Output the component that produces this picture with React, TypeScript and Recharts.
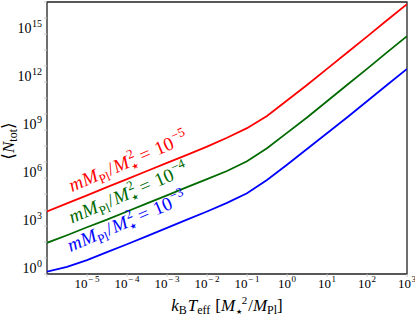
import React from "react";
import { LineChart, Line, XAxis, YAxis, ReferenceArea } from "recharts";

// k_B T_eff sample points [M*^2 / M_Pl]
const temperatures = [
  1e-6, 3.16e-6, 1e-5, 3.16e-5, 1e-4, 3.16e-4, 1e-3, 3.16e-3, 1e-2, 3.16e-2,
  1e-1, 3.16e-1, 1, 3.16, 10, 31.6, 100, 316, 1000,
];
// <N_tot> for m M_Pl / M*^2 = 1e-5 (red)
const seriesA = [
  8.1e3, 2.6e4, 8.3e4, 2.7e5, 8.5e5, 2.75e6, 8.9e6, 2.8e7, 9.1e7, 3.3e8,
  1.3e9, 7.6e9, 6.9e10, 6.5e11, 6.6e12, 6.8e13, 6.9e14, 7.2e15, 7.4e16,
];
// <N_tot> for m M_Pl / M*^2 = 1e-4 (green)
const seriesB = [
  89, 263, 832, 2.5e3, 8.1e3, 2.6e4, 8.3e4, 2.7e5, 8.5e5, 2.75e6,
  1.1e7, 7.2e7, 6.6e8, 6.0e9, 6.2e10, 6.5e11, 6.6e12, 7.1e13, 7.4e14,
];
// <N_tot> for m M_Pl / M*^2 = 1e-3 (blue)
const seriesC = [
  1.4, 2.8, 7.4, 23, 72, 234, 760, 2.5e3, 8.1e3, 2.8e4,
  1.1e5, 7.6e5, 6.8e6, 6.5e7, 6.2e8, 6.0e9, 6.2e10, 6.5e11, 6.6e12,
];
const xTicks = [1e-6, 1e-5, 1e-4, 1e-3, 1e-2, 1e-1, 1, 10, 100, 1000];
const yTicks = [
  1, 1e1, 1e2, 1e3, 1e4, 1e5, 1e6, 1e7, 1e8, 1e9, 1e10, 1e11, 1e12, 1e13,
  1e14, 1e15, 1e16, 1e17,
];
const labelExponents = ["−5", "−4", "−3"];

const data = temperatures.map((t, i) => ({
  t,
  a: seriesA[i],
  b: seriesB[i],
  c: seriesC[i],
}));

const SERIF = "'Liberation Serif', 'DejaVu Serif', serif";
const STAR = "★";

const expText = (v: number) => {
  const e = Math.round(Math.log10(v));
  return e < 0 ? `−\u2009${Math.abs(e)}` : `${e}`;
};

const XTick = (props: any) => {
  const { x, y, payload } = props;
  const e = Math.round(Math.log10(payload.value));
  if (e < -5) return null;
  return (
    <text x={x} y={y + 9} textAnchor="middle" fontFamily={SERIF} fontSize={13} fill="#000">
      <tspan>10</tspan>
      <tspan fontSize={9} dy={-6} dx={0.5}>{expText(payload.value)}</tspan>
    </text>
  );
};

const YTick = (props: any) => {
  const { x, y, payload } = props;
  const e = Math.round(Math.log10(payload.value));
  if (e % 3 !== 0 || e > 15) return null;
  return (
    <text x={x} y={y - 1} textAnchor="end" fontFamily={SERIF} fontSize={14} fill="#000">
      <tspan>10</tspan>
      <tspan fontSize={10} dy={-6} dx={0.5}>{expText(payload.value)}</tspan>
    </text>
  );
};

const MathLabel = ({ x, y, color, exp }: { x: number; y: number; color: string; exp: string }) => (
  <text
    transform={`translate(${x},${y}) rotate(-23)`}
    fill={color}
    fontFamily={SERIF}
    fontSize={19}
  >
    <tspan fontStyle="italic">m</tspan>
    <tspan fontStyle="italic" dx={0.5}>M</tspan>
    <tspan fontSize={13} dy={4}>Pl</tspan>
    <tspan dy={-4} dx={1}>/</tspan>
    <tspan fontStyle="italic" dx={1}>M</tspan>
    <tspan fontSize={13} dy={-8} dx={1}>2</tspan>
    <tspan fontSize={8} dx={-7} dy={11}>{STAR}</tspan>
    <tspan dy={-3} dx={5}>=</tspan>
    <tspan dx={6}>10</tspan>
    <tspan fontSize={13} dy={-8} dx={1}>{exp}</tspan>
  </text>
);

export default function App() {
  return (
    <div style={{ position: "absolute", left: 0, top: 0, width: 415, height: 320, background: "#fff" }}>
      <LineChart
        width={415}
        height={320}
        data={data}
        margin={{ top: 2, right: 8, bottom: 0, left: 0 }}
      >
        <XAxis
          dataKey="t"
          type="number"
          scale="log"
          domain={[1e-6, 1e3]}
          allowDataOverflow
          ticks={xTicks}
          interval={0}
          height={46}
          axisLine={false}
          tickLine={{ stroke: "#c8c8c8" }}
          tickSize={3}
          tick={<XTick />}
        />
        <YAxis
          type="number"
          scale="log"
          domain={[1, 1e17]}
          allowDataOverflow
          ticks={yTicks}
          interval={0}
          width={47}
          axisLine={false}
          tickLine={{ stroke: "#c8c8c8" }}
          tickSize={3}
          tickMargin={2}
          tick={<YTick />}
        />
        <ReferenceArea
          x1={1e-6}
          x2={1e3}
          y1={1}
          y2={1e17}
          fill="none"
          stroke="#222"
          strokeWidth={1.3}
        />
        <Line type="linear" dataKey="a" stroke="#ff0000" strokeWidth={1.8} dot={false} isAnimationActive={false} />
        <Line type="linear" dataKey="b" stroke="#006a00" strokeWidth={1.8} dot={false} isAnimationActive={false} />
        <Line type="linear" dataKey="c" stroke="#0000ff" strokeWidth={1.8} dot={false} isAnimationActive={false} />
      </LineChart>
      <svg
        width={415}
        height={320}
        style={{ position: "absolute", left: 0, top: 0, pointerEvents: "none" }}
      >
        <MathLabel x={72} y={192} color="#ff0000" exp={labelExponents[0]} />
        <MathLabel x={72} y={223.5} color="#006a00" exp={labelExponents[1]} />
        <MathLabel x={70.5} y={252} color="#0000ff" exp={labelExponents[2]} />
        <text transform="translate(14,141) rotate(-90)" textAnchor="middle" fontFamily={SERIF} fontSize={17} fill="#000">
          <tspan>⟨</tspan>
          <tspan fontStyle="italic">N</tspan>
          <tspan fontSize={12} dy={3}>tot</tspan>
          <tspan dy={-3}>⟩</tspan>
        </text>
        <text x={227} y={311} textAnchor="middle" fontFamily={SERIF} fontSize={17} fill="#000">
          <tspan fontStyle="italic">k</tspan>
          <tspan fontSize={12} dy={3}>B</tspan>
          <tspan fontStyle="italic" dy={-3} dx={1}>T</tspan>
          <tspan fontSize={12} dy={3}>eff</tspan>
          <tspan dy={-3} dx={5}>[</tspan>
          <tspan fontStyle="italic">M</tspan>
          <tspan fontSize={7} dy={3} dx={0.5}>{STAR}</tspan>
          <tspan fontSize={11} dy={-10}>2</tspan>
          <tspan dy={7} dx={1}>/</tspan>
          <tspan fontStyle="italic">M</tspan>
          <tspan fontSize={12} dy={3}>Pl</tspan>
          <tspan dy={-3}>]</tspan>
        </text>
      </svg>
    </div>
  );
}
